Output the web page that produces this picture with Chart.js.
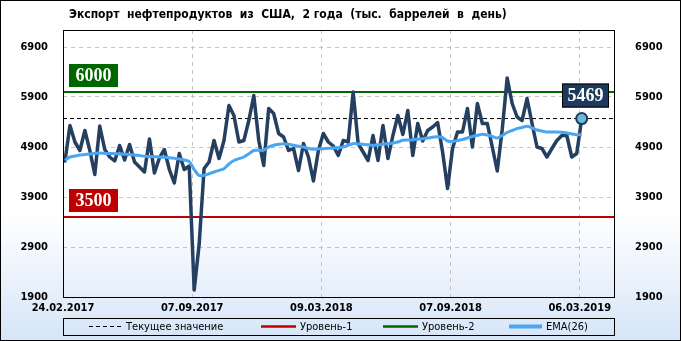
<!DOCTYPE html>
<html>
<head>
<meta charset="utf-8">
<script src="https://cdn.jsdelivr.net/npm/chart.js@4.4.0/dist/chart.umd.min.js"></script>
<style>
    html, body { margin: 0; padding: 0; background: #fff; }
    #wrap { width: 681px; height: 341px; }
</style>
</head>
<body>
<div id="wrap"><canvas id="chart" width="681" height="341"></canvas></div>
<script>
// Weekly product exports, thousand barrels per day
const exportValues = [
    4620, 5330, 5000, 4830, 5230, 4830, 4350, 5320, 4850, 4700,
    4620, 4930, 4640, 4950, 4600, 4500, 4400, 5060, 4380, 4680,
    4850, 4450, 4180, 4770, 4450, 4520, 2040, 2950, 4470, 4600,
    5030, 4670, 5030, 5730, 5530, 5000, 5030, 5430, 5930, 5030,
    4530, 5670, 5570, 5170, 5100, 4830, 4870, 4430, 4970, 4700,
    4220, 4830, 5170, 5000, 4920, 4730, 5030, 5000, 6000, 4970,
    4800, 4630, 5130, 4630, 5330, 4670, 5130, 5530, 5150, 5630,
    4730, 5370, 5020, 5230, 5300, 5390, 4800, 4070, 4870, 5200,
    5200, 5670, 4900, 5770, 5370, 5370, 4900, 4420, 5250, 6280,
    5770, 5500, 5430, 5870, 5370, 4900, 4870, 4700, 4870, 5030,
    5130, 5130, 4700, 4770, 5469
];

// EMA(26)
const emaValues = [
    4634, 4700, 4720, 4740, 4750, 4760, 4770, 4780, 4775, 4770,
    4767, 4762, 4756, 4750, 4740, 4728, 4714, 4710, 4705, 4700,
    4694, 4687, 4675, 4660, 4640, 4610, 4450, 4330, 4335, 4365,
    4400, 4434, 4467, 4560, 4630, 4667, 4700, 4765, 4830, 4834,
    4836, 4900, 4934, 4954, 4967, 4954, 4934, 4915, 4900, 4870,
    4855, 4860, 4867, 4873, 4880, 4890, 4900, 4935, 4967, 4960,
    4954, 4944, 4934, 4944, 4954, 4967, 4980, 5000, 5034, 5040,
    5047, 5057, 5067, 5080, 5095, 5105, 5085, 5020, 5010, 5030,
    5050, 5080, 5110, 5133, 5154, 5140, 5113, 5080, 5130, 5190,
    5230, 5267, 5290, 5313, 5280, 5240, 5220, 5200, 5200, 5200,
    5195, 5180, 5160, 5145, 5145
];

const dateLabels = ['24.02.2017', '07.09.2017', '09.03.2018', '07.09.2018', '06.03.2019'];
const yTicks = [1900, 2900, 3900, 4900, 5900, 6900];
const levels = [3500, 6000];          // Уровень-1, Уровень-2
const levelColors = ['#c00000', '#006600'];

const TITLE = 'Экспорт  нефтепродуктов  из  США,  2 года  (тыс.  баррелей  в  день)';
const X_MIN = -0.4, X_MAX = 110.7, X_STEP = 26;
const lastValue = exportValues[exportValues.length - 1];

const toPoints = arr => arr.map((v, i) => ({ x: i, y: v }));
const flatLine = v => [{ x: X_MIN, y: v }, { x: X_MAX, y: v }];

const decor = {
    id: 'decor',
    beforeDraw(chart) {
        const { ctx, width, height } = chart;
        const g = ctx.createLinearGradient(0, 215, 0, height);
        g.addColorStop(0, '#ffffff');
        g.addColorStop(1, '#d6e5f8');
        ctx.save();
        ctx.fillStyle = '#ffffff';
        ctx.fillRect(0, 0, width, height);
        ctx.fillStyle = g;
        ctx.fillRect(0, 215, width, height - 215);
        ctx.restore();
    },
    afterDraw(chart) {
        const { ctx, chartArea: a, width, height } = chart;
        const y = chart.scales.y;
        ctx.save();

        // plot frame
        ctx.strokeStyle = '#000';
        ctx.lineWidth = 1;
        ctx.strokeRect(Math.round(a.left) + 0.5, Math.round(a.top) + 0.5,
            Math.round(a.right - a.left) - 1, Math.round(a.bottom - a.top));

        // title
        ctx.fillStyle = '#000';
        ctx.font = 'bold 12px "DejaVu Sans Condensed", sans-serif';
        ctx.textBaseline = 'middle';
        ctx.textAlign = 'left';
        ctx.fillText(TITLE, 69, 15);

        // level tags
        ctx.font = 'bold 18px "Liberation Serif", serif';
        ctx.textAlign = 'center';
        levels.forEach((lv, k) => {
            const ly = y.getPixelForValue(lv);
            const bx = a.left + 6, bw = 49, bh = 23, by = ly - 5 - bh;
            ctx.fillStyle = levelColors[k];
            ctx.fillRect(bx, by, bw, bh);
            ctx.fillStyle = '#fff';
            ctx.fillText(String(lv), bx + bw / 2, by + bh / 2 + 1);
        });

        // current value tag
        const cy = y.getPixelForValue(lastValue);
        const tw = 47, th = 24, tx = a.right - 6 - tw, ty = cy - 11 - th;
        ctx.fillStyle = '#1d3a5e';
        ctx.fillRect(tx, ty, tw, th);
        ctx.strokeStyle = '#000';
        ctx.strokeRect(tx + 0.5, ty + 0.5, tw - 1, th - 1);
        ctx.fillStyle = '#fff';
        ctx.fillText(String(lastValue), tx + tw / 2, ty + th / 2 + 1);

        // legend
        const lx0 = a.left, lx1 = a.right, ly0 = 318, ly1 = 335, lm = (ly0 + ly1) / 2;
        ctx.strokeStyle = '#000';
        ctx.lineWidth = 1;
        ctx.strokeRect(Math.round(lx0) + 0.5, ly0 + 0.5, Math.round(lx1 - lx0) - 1, ly1 - ly0);
        ctx.font = '11px "DejaVu Sans Condensed", sans-serif';
        ctx.textAlign = 'left';
        const items = [
            { x: 89, w: 33, color: '#000', lw: 1, dash: [4, 3], text: 'Текущее значение' },
            { x: 261, w: 35, color: levelColors[0], lw: 2.5, dash: [], text: 'Уровень-1' },
            { x: 383, w: 35, color: levelColors[1], lw: 2.5, dash: [], text: 'Уровень-2' },
            { x: 509, w: 33, color: '#49a6f2', lw: 4, dash: [], text: 'EMA(26)' }
        ];
        items.forEach(it => {
            ctx.beginPath();
            ctx.setLineDash(it.dash);
            ctx.strokeStyle = it.color;
            ctx.lineWidth = it.lw;
            ctx.moveTo(it.x, lm);
            ctx.lineTo(it.x + it.w, lm);
            ctx.stroke();
            ctx.setLineDash([]);
            ctx.fillStyle = '#000';
            ctx.fillText(it.text, it.x + it.w + 4, lm + 1);
        });

        // outer frame
        ctx.strokeStyle = '#000';
        ctx.lineWidth = 1;
        ctx.strokeRect(0.5, 0.5, width - 1, height - 1);
        ctx.restore();
    }
};

const tickFont = { family: '"DejaVu Sans Condensed", sans-serif', size: 11, weight: 'bold' };
const gridDash = { color: '#c4c4c4', lineWidth: 1, drawTicks: false };
const plainNumber = v => String(v);

new Chart(document.getElementById('chart'), {
    type: 'line',
    data: {
        datasets: [
            {
                label: 'EMA(26)',
                data: toPoints(emaValues),
                borderColor: '#49a6f2',
                borderWidth: 3,
                pointRadius: 0,
                tension: 0.3
            },
            {
                label: 'Экспорт',
                data: toPoints(exportValues),
                borderColor: '#243f60',
                borderWidth: 3.5,
                borderJoinStyle: 'round',
                borderCapStyle: 'round',
                tension: 0,
                pointRadius: c => c.dataIndex === exportValues.length - 1 ? 5.5 : 0,
                pointBackgroundColor: '#6cbad6',
                pointBorderColor: '#1d3a5e',
                pointBorderWidth: 2
            },
            {
                label: 'Текущее значение',
                data: flatLine(lastValue),
                borderColor: '#000',
                borderWidth: 1,
                borderDash: [4, 3],
                pointRadius: 0
            },
            {
                label: 'Уровень-2',
                data: flatLine(levels[1]),
                borderColor: levelColors[1],
                borderWidth: 2,
                pointRadius: 0
            },
            {
                label: 'Уровень-1',
                data: flatLine(levels[0]),
                borderColor: levelColors[0],
                borderWidth: 2,
                pointRadius: 0
            }
        ]
    },
    options: {
        responsive: false,
        animation: false,
        devicePixelRatio: 1,
        layout: { padding: { top: 30, left: 0, right: 0, bottom: 0 } },
        plugins: { legend: { display: false }, tooltip: { enabled: false } },
        scales: {
            x: {
                type: 'linear',
                min: X_MIN,
                max: X_MAX,
                afterBuildTicks: s => { s.ticks = dateLabels.map((_, i) => ({ value: X_MIN + i * X_STEP })); },
                afterFit: s => { s.height = 44; },
                ticks: {
                    autoSkip: false,
                    maxRotation: 0,
                    padding: 5,
                    color: '#000',
                    font: tickFont,
                    callback: (v, i) => dateLabels[i]
                },
                grid: { ...gridDash, display: true },
                border: { display: false, dash: [4, 4] }
            },
            y: {
                position: 'left',
                min: 1900,
                max: 7240,
                afterBuildTicks: s => { s.ticks = yTicks.map(v => ({ value: v })); },
                afterFit: s => { s.width = 63; },
                ticks: { padding: 15, color: '#000', font: tickFont, callback: plainNumber },
                grid: gridDash,
                border: { display: false, dash: [4, 4] }
            },
            y2: {
                position: 'right',
                min: 1900,
                max: 7240,
                afterBuildTicks: s => { s.ticks = yTicks.map(v => ({ value: v })); },
                afterFit: s => { s.width = 66; },
                ticks: { padding: 12, color: '#000', font: tickFont, callback: plainNumber },
                grid: { display: false },
                border: { display: false }
            }
        }
    },
    plugins: [decor]
});
</script>
</body>
</html>
